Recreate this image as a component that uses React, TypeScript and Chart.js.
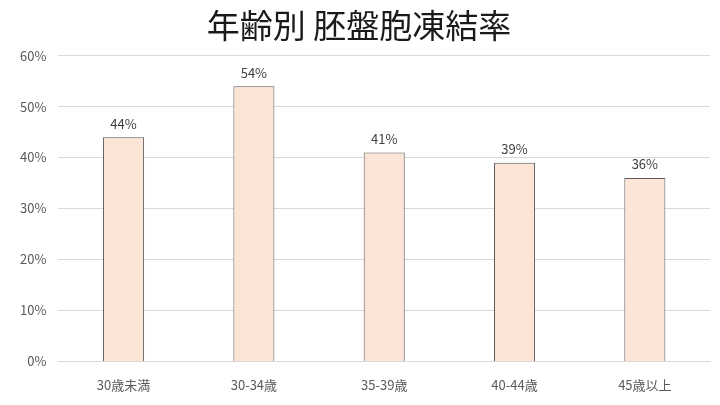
import React, { useEffect, useRef } from "react";
import Chart from "chart.js/auto";

const categories = ["30歳未満", "30-34歳", "35-39歳", "40-44歳", "45歳以上"];
const freezeRates = [44, 54, 41, 39, 36];
const yTicks = [0, 10, 20, 30, 40, 50, 60];

const FONT = "'Noto Sans CJK JP', 'Noto Sans', sans-serif";

const barLabels = {
  id: "barLabels",
  afterDatasetsDraw(chart: any) {
    const { ctx } = chart;
    const meta = chart.getDatasetMeta(0);
    ctx.save();
    ctx.font = `13px ${FONT}`;
    ctx.fillStyle = "#404040";
    ctx.textAlign = "center";
    ctx.textBaseline = "bottom";
    meta.data.forEach((bar: any, i: number) => {
      ctx.fillText(`${freezeRates[i]}%`, bar.x, bar.y - 7);
    });
    ctx.restore();
  },
};

const App = () => {
  const chartRef = useRef<HTMLCanvasElement>(null);

  useEffect(() => {
    document.body.style.margin = "0";
    if (!chartRef.current) return;
    const ctx = chartRef.current.getContext("2d");
    if (!ctx) return;

    const chart = new Chart(ctx, {
      type: "bar",
      data: {
        labels: categories,
        datasets: [
          {
            data: freezeRates,
            backgroundColor: "#fce4d6",
            borderColor: "#595959",
            borderWidth: 1,
            barPercentage: 0.315,
            categoryPercentage: 1,
          },
        ],
      },
      options: {
        animation: false,
        responsive: true,
        maintainAspectRatio: false,
        layout: { padding: { left: 8, right: 10, top: 2, bottom: 4 } },
        plugins: {
          legend: { display: false },
          tooltip: { enabled: false },
          title: {
            display: true,
            text: "年齢別 胚盤胞凍結率",
            color: "#1a1a1a",
            font: { family: FONT, size: 33, weight: "normal" },
            padding: { top: 4, bottom: 10 },
          },
        },
        scales: {
          x: {
            grid: { display: false },
            border: { color: "#d9d9d9" },
            ticks: {
              color: "#595959",
              font: { family: FONT, size: 13 },
              padding: 8,
            },
          },
          y: {
            min: 0,
            max: 60,
            afterBuildTicks: (axis: any) => {
              axis.ticks = yTicks.map((v) => ({ value: v }));
            },
            grid: { color: "#d9d9d9", drawTicks: false },
            border: { display: false },
            ticks: {
              color: "#595959",
              font: { family: FONT, size: 13 },
              padding: 12,
              callback: (v: any) => `${v}%`,
            },
          },
        },
      },
      plugins: [barLabels],
    });

    return () => {
      chart.destroy();
    };
  }, []);

  return (
    <div style={{ width: 720, height: 405, position: "relative" }}>
      <canvas ref={chartRef}></canvas>
    </div>
  );
};

export default App;
